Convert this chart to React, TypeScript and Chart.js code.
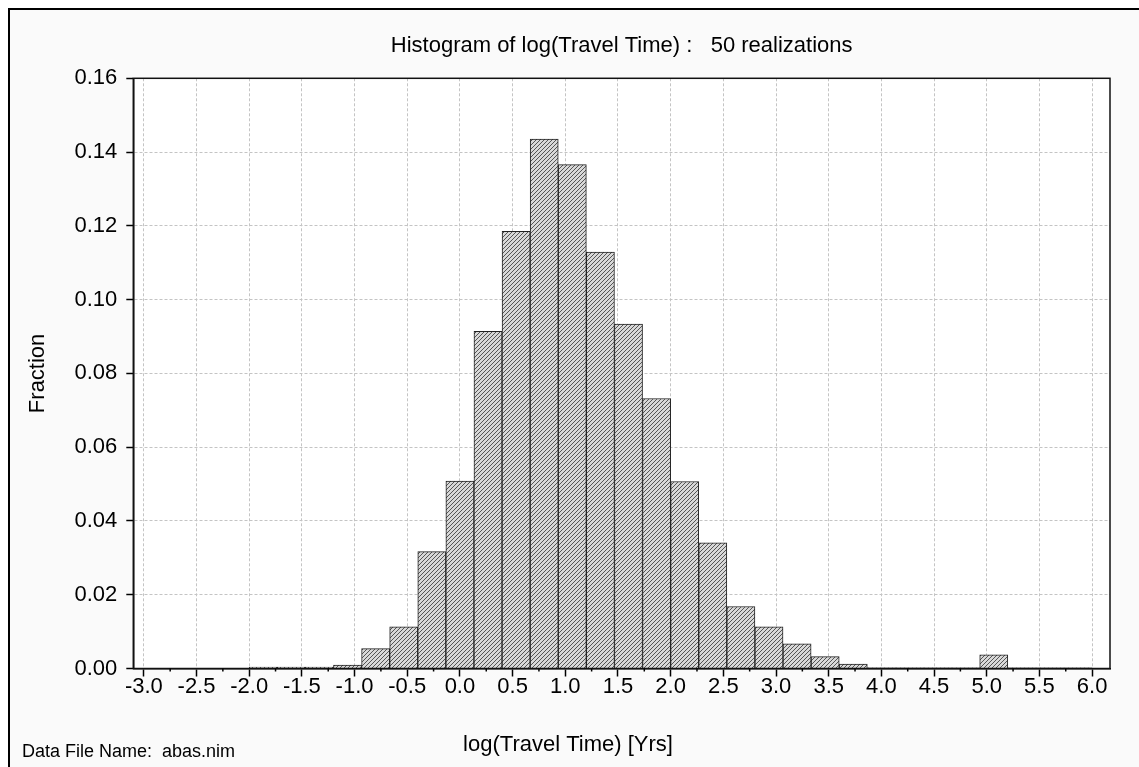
import React, { useEffect, useRef } from 'react';
import { Chart, registerables } from 'chart.js';

Chart.register(...registerables);

// ---- data ----
const binStart = -2.0;
const binWidth = 8 / 30;
const fractions = [
  0.0004, 0.0004, 0.0004, 0.0009, 0.0054, 0.0113, 0.0317, 0.0508, 0.0914, 0.1185,
  0.1435, 0.1366, 0.1129, 0.0934, 0.0732, 0.0507, 0.0341, 0.0168, 0.0113, 0.0067,
  0.0032, 0.0012, 0.0002, 0.0002, 0.0002, 0.0002, 0.0037, 0.0002, 0.0002, 0.0002,
];
const xTickValues = [-3.0, -2.5, -2.0, -1.5, -1.0, -0.5, 0.0, 0.5, 1.0, 1.5, 2.0, 2.5, 3.0, 3.5, 4.0, 4.5, 5.0, 5.5, 6.0];
const yTickValues = [0, 0.02, 0.04, 0.06, 0.08, 0.1, 0.12, 0.14, 0.16];
const xMin = -3.1;
const xMax = 6.17;
const yMin = 0;
const yMax = 0.16;

const titleText = 'Histogram of log(Travel Time) :   50 realizations';
const xTitle = 'log(Travel Time) [Yrs]';
const yTitle = 'Fraction';
const footnote = 'Data File Name:  abas.nim';

const FAMILY = "'Liberation Sans', Arial, sans-serif";

function makeHatch(): CanvasPattern | string {
  const c = document.createElement('canvas');
  c.width = 4;
  c.height = 4;
  const g = c.getContext('2d');
  if (!g) return '#bbbbbb';
  g.fillStyle = '#d8d8d8';
  g.fillRect(0, 0, 4, 4);
  g.fillStyle = '#555555';
  for (let i = 0; i < 4; i++) g.fillRect(3 - i, i, 1, 1);
  return g.createPattern(c, 'repeat') || '#bbbbbb';
}

const decor = {
  id: 'decor',
  beforeDraw(chart: any) {
    const { ctx, chartArea: a } = chart;
    ctx.save();
    ctx.fillStyle = '#ffffff';
    ctx.fillRect(a.left, a.top, a.right - a.left, a.bottom - a.top);
    ctx.restore();
  },
  afterDatasetsDraw(chart: any) {
    const { ctx, chartArea: a } = chart;
    const xs = chart.scales.x;
    ctx.save();
    ctx.strokeStyle = '#111111';
    ctx.lineWidth = 1.5;
    ctx.strokeRect(a.left, a.top, a.right - a.left, a.bottom - a.top);
    // minor ticks between major x ticks
    ctx.strokeStyle = '#000000';
    for (let i = 0; i < xTickValues.length - 1; i++) {
      const mid = (xTickValues[i] + xTickValues[i + 1]) / 2;
      const px = xs.getPixelForValue(mid);
      ctx.beginPath();
      ctx.moveTo(px, a.bottom);
      ctx.lineTo(px, a.bottom + 3);
      ctx.stroke();
    }
    ctx.restore();
  },
  afterDraw(chart: any) {
    const { ctx } = chart;
    ctx.save();
    ctx.fillStyle = '#000000';
    ctx.font = `22px ${FAMILY}`;
    ctx.textAlign = 'center';
    ctx.textBaseline = 'middle';
    ctx.fillText(xTitle, 558, 735);
    ctx.font = `18px ${FAMILY}`;
    ctx.textAlign = 'left';
    ctx.textBaseline = 'alphabetic';
    ctx.fillText(footnote, 12, 747);
    ctx.restore();
  },
};

export default function App() {
  const ref = useRef<HTMLCanvasElement | null>(null);

  useEffect(() => {
    const canvas = ref.current;
    if (!canvas) return;
    const hatch = makeHatch();
    const tickFont = { family: FAMILY, size: 22, weight: 'normal' as const };
    const chart = new Chart(canvas, {
      type: 'bar',
      data: {
        datasets: [
          {
            data: fractions.map((v, i) => ({ x: binStart + (i + 0.5) * binWidth, y: v })),
            backgroundColor: hatch as any,
            borderColor: '#222222',
            borderWidth: 1,
            barPercentage: 1,
            categoryPercentage: 1,
            grouped: false,
          } as any,
        ],
      },
      options: {
        responsive: false,
        animation: false,
        devicePixelRatio: 1,
        layout: { padding: { left: 0, right: 29, top: 0, bottom: 58.5 } },
        plugins: {
          legend: { display: false },
          tooltip: { enabled: false },
          title: {
            display: true,
            fullSize: false,
            text: titleText,
            color: '#000000',
            font: tickFont,
            padding: { top: 22.8, bottom: 19.1 },
          },
        },
        scales: {
          x: {
            type: 'linear',
            min: xMin,
            max: xMax,
            offset: false,
            afterBuildTicks: (s: any) => {
              s.ticks = xTickValues.map((v) => ({ value: v }));
            },
            afterFit: (s: any) => {
              s.height = 40;
            },
            ticks: {
              autoSkip: false,
              maxRotation: 0,
              minRotation: 0,
              padding: -3,
              color: '#000000',
              font: tickFont,
              callback: (v: any) => Number(v).toFixed(1),
            },
            grid: {
              color: '#c4c4c4',
              lineWidth: 1,
              tickLength: 8,
              tickColor: '#000000',
              tickWidth: 1.5,
              tickBorderDash: [],
              offset: false,
            },
            border: { display: true, color: '#000000', width: 1.5, dash: [3, 2] },
          } as any,
          y: {
            type: 'linear',
            min: yMin,
            max: yMax,
            afterBuildTicks: (s: any) => {
              s.ticks = yTickValues.map((v) => ({ value: v }));
            },
            afterFit: (s: any) => {
              s.width = 123.3;
            },
            ticks: {
              padding: 9,
              color: '#000000',
              font: tickFont,
              callback: (v: any) => Number(v).toFixed(2),
            },
            grid: {
              color: '#c4c4c4',
              lineWidth: 1,
              tickLength: 7,
              tickColor: '#000000',
              tickWidth: 1.5,
              tickBorderDash: [],
            },
            border: { display: true, color: '#000000', width: 1.5, dash: [3, 2] },
            title: {
              display: true,
              text: yTitle,
              color: '#000000',
              font: tickFont,
              padding: { top: 14.5, bottom: 0 },
            },
          } as any,
        },
      },
      plugins: [decor],
    });
    return () => chart.destroy();
  }, []);

  return (
    <div
      style={{
        position: 'fixed',
        top: 8,
        left: 8,
        borderTop: '2px solid #000',
        borderLeft: '2px solid #000',
        background: '#FAFAFA',
        width: 1200,
        height: 800,
      }}
    >
      <canvas ref={ref} width={1129} height={757} style={{ display: 'block', width: 1129, height: 757 }} />
    </div>
  );
}
